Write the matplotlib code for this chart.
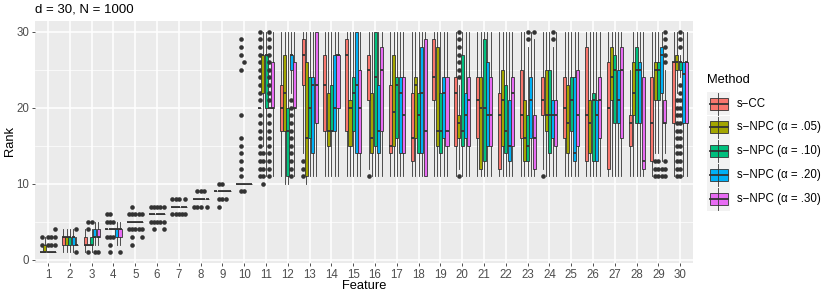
# Rank of each feature by method, d = 30, N = 1000
import numpy as np
import matplotlib.pyplot as plt
from matplotlib.patches import Rectangle

plt.rcParams['font.family'] = ['Liberation Sans', 'DejaVu Sans']

features = list(range(1, 31))
methods = ['s\u2212CC', 's\u2212NPC (\u03b1 = .05)', 's\u2212NPC (\u03b1 = .10)',
           's\u2212NPC (\u03b1 = .20)', 's\u2212NPC (\u03b1 = .30)']
colors = ['#F8766D', '#A3A500', '#00BF7D', '#00B0F6', '#E76BF3']

# box statistics, one row per method, one column per feature
q1 = [
    [1, 2, 2, 4, 5, 6, 7, 8, 9, 10, 20, 17, 23, 17, 17, 21, 14, 13, 21, 15, 16, 12, 16, 19, 16, 13, 12, 15, 13, 18],
    [1, 2, 2, 4, 5, 6, 7, 8, 9, 10, 22, 17, 11, 15, 15, 14, 15, 16, 15, 16, 12, 15, 13, 17, 14, 14, 21, 19, 21, 25],
    [1, 2, 2, 4, 5, 6, 7, 8, 9, 10, 20, 11, 16, 17, 17, 15, 16, 14, 14, 15, 13, 14, 13, 14, 17, 13, 18, 18, 21, 25],
    [1, 2, 3, 3, 5, 6, 7, 8, 9, 10, 20, 25, 14, 17, 14, 14, 14, 14, 16, 16, 15, 13, 16, 16, 13, 13, 18, 18, 22, 18],
    [1, 2, 3, 3, 5, 6, 7, 8, 9, 10, 20, 20, 18, 20, 14, 17, 14, 11, 15, 15, 15, 15, 12, 15, 15, 16, 16, 12, 18, 18],
]
med = [
    [1, 3, 2, 4, 5, 6, 7, 8, 9, 10, 20, 20, 27, 23, 27, 25, 15, 16, 24, 22, 21, 19, 19, 21, 20, 19, 20, 18, 18, 26],
    [1, 3, 2, 4, 5, 6, 7, 8, 9, 10, 27, 22, 16, 17, 20, 16, 19.5, 23, 17, 18, 20, 21, 16, 19, 18, 18, 24, 22, 25, 26],
    [1, 3, 2, 4, 5, 6, 7, 8, 9, 10, 27, 17, 20, 17, 22, 24, 23, 19, 17, 17, 20, 17, 15, 19, 21, 21, 25, 25, 25, 26],
    [1, 3, 3, 4, 5, 6, 7, 8, 9, 10, 20, 27, 23, 20, 23, 17, 22, 22, 22, 19, 19, 15, 21, 19, 14, 19, 21, 25, 27, 24.5],
    [1, 2, 3, 4, 5, 6, 7, 8, 9, 10, 20, 20, 23, 27, 20, 25, 19, 17, 17, 21, 19, 22, 16, 19, 19, 21, 25, 13, 18, 26],
]
q3 = [
    [1, 3, 3, 4, 5, 6, 7, 8, 9, 10, 20, 23, 29, 27, 29, 27, 23, 22, 29, 24, 24, 22, 25, 24, 24, 28, 26, 19, 24, 26],
    [2, 3, 2, 4, 5, 6, 7, 8, 9, 10, 27, 27, 26, 22, 21, 22, 27, 24, 28, 19, 24, 25, 21, 25, 23, 21, 28, 26, 26, 27],
    [1, 3, 3, 4, 5, 6, 7, 8, 9, 10, 27, 20, 24, 23, 24, 30, 24, 22, 22, 27, 29, 23, 19, 25, 24, 22, 27, 28, 26, 26],
    [1, 3, 4, 4, 5, 6, 7, 8, 9, 10, 20, 27, 24, 27, 30, 23, 24, 28, 24, 22, 26, 21, 24, 21, 24, 21, 25, 26, 28, 26],
    [1, 2, 4, 4, 5, 6, 7, 8, 9, 10, 26, 26, 30, 27, 25, 28, 24, 29, 24, 24, 24, 24, 19, 21, 25, 24, 28, 24, 21, 26],
]
whisk_lo = [
    [1, 1, 1, 4, 5, 6, 7, 8, 9, 10, 20, 11, 14, 11, 11, 12, 11, 11, 11, 11, 11, 11, 11, 12, 11, 11, 11, 11, 11, 11],
    [1, 1, 2, 4, 5, 6, 7, 8, 9, 10, 15, 10, 10, 11, 11, 11, 11, 11, 11, 12, 11, 11, 11, 11, 11, 11, 11, 11, 14, 22],
    [1, 1, 1, 4, 5, 6, 7, 8, 9, 10, 11, 10, 11, 11, 11, 11, 11, 11, 11, 11, 11, 11, 11, 11, 11, 11, 11, 11, 14, 24],
    [1, 1, 2, 2, 5, 6, 7, 8, 9, 10, 20, 22, 11, 11, 11, 11, 11, 11, 11, 11, 11, 11, 11, 11, 11, 11, 11, 11, 13, 11],
    [1, 2, 2, 2, 5, 6, 7, 8, 9, 10, 11, 11, 11, 11, 11, 11, 11, 11, 11, 11, 11, 11, 11, 11, 11, 11, 11, 11, 14, 11],
]
whisk_hi = [
    [1, 4, 4, 4, 5, 6, 7, 8, 9, 10, 20, 30, 30, 30, 30, 30, 30, 30, 30, 30, 30, 30, 30, 30, 30, 30, 30, 25, 30, 30],
    [3, 4, 2, 4, 5, 6, 7, 8, 9, 10, 30, 30, 30, 30, 30, 30, 30, 30, 30, 23, 30, 30, 30, 30, 30, 30, 30, 30, 30, 30],
    [1, 4, 4, 4, 5, 6, 7, 8, 9, 10, 30, 30, 30, 30, 30, 30, 30, 30, 30, 30, 30, 30, 28, 30, 30, 30, 30, 30, 30, 27],
    [1, 4, 5, 5, 5, 6, 7, 8, 9, 10, 20, 30, 30, 30, 30, 30, 30, 30, 30, 30, 30, 30, 30, 28, 30, 30, 30, 30, 30, 30],
    [1, 3, 5, 5, 5, 6, 7, 8, 9, 10, 30, 30, 30, 30, 30, 30, 30, 30, 30, 30, 30, 30, 29, 30, 30, 30, 30, 30, 25, 30],
]

# outliers per method: feature -> ranks
fliers_scc = {1: [2, 3], 4: [3, 5, 6], 5: [4, 6], 6: [5, 7], 7: [6, 8], 8: [7],
              11: [11, 12, 13, 14, 15, 16, 17, 18, 19, 21, 22, 23, 24, 25, 26, 27, 28, 29, 30],
              13: [11, 12, 13], 16: [11], 24: [11]}
fliers_05 = {3: [1, 4, 5], 4: [1, 2, 3, 5, 6], 5: [2, 3, 4, 6, 7], 6: [4, 5, 7], 7: [6, 8],
             8: [7, 9], 9: [7, 8, 10], 10: [9, 11, 12, 13, 14, 15, 16, 19, 25, 27, 28, 29],
             11: [10, 11, 12, 13, 14], 20: [11, 24, 25, 26, 27, 28, 29, 30], 29: [11, 12, 13],
             30: [11, 12, 13, 14, 15, 16, 17, 18, 19, 20, 21]}
fliers_10 = {1: [2, 3], 3: [5], 4: [3, 5], 5: [4, 6], 6: [5, 7], 7: [6, 8], 8: [7, 9],
             9: [8, 10], 10: [9, 26], 23: [29, 30], 29: [11, 12, 13],
             30: [11, 12, 13, 14, 15, 16, 17, 18, 19, 20, 21, 22, 23, 28, 29, 30]}
fliers_20 = {1: [2, 3], 3: [1], 5: [4, 6], 6: [5, 7], 7: [6], 8: [9], 9: [8],
             11: [11, 12, 13, 14, 15, 16, 17, 18, 19, 21, 22, 23, 24, 25, 26, 27, 28, 29, 30],
             12: [11, 12, 13, 14, 15, 16, 17, 18, 19, 20, 21], 24: [29, 30], 29: [11, 12]}
fliers_30 = {1: [2, 3, 4], 2: [1, 4], 3: [1], 4: [1], 5: [3, 4, 6], 6: [4, 5, 7], 7: [6, 8],
             8: [7], 23: [30], 29: [11, 12, 13, 26, 27, 28, 29, 30]}
fliers = [fliers_scc, fliers_05, fliers_10, fliers_20, fliers_30]

W, H = 830, 297
fig = plt.figure(figsize=(8.3, 2.97), dpi=100)
ax = fig.add_axes([35 / W, 1 - 263.3 / H, (693.3 - 35) / W, (263.3 - 20.7) / H])
ax.set_facecolor('#EBEBEB')
for s in ax.spines.values():
    s.set_visible(False)

offsets = [-0.3, -0.15, 0.0, 0.15, 0.3]
dark = '#333333'
for m in range(5):
    stats = []
    for i, f in enumerate(features):
        stats.append(dict(q1=q1[m][i], med=med[m][i], q3=q3[m][i],
                          whislo=whisk_lo[m][i], whishi=whisk_hi[m][i],
                          fliers=fliers[m].get(f, [])))
    pos = np.array(features) + offsets[m]
    ax.bxp(stats, positions=pos, widths=0.14, patch_artist=True, showcaps=False,
           manage_ticks=False,
           boxprops=dict(facecolor=colors[m], edgecolor=dark, linewidth=0.6),
           medianprops=dict(color=dark, linewidth=1.3, solid_capstyle='butt'),
           whiskerprops=dict(color=dark, linewidth=0.6),
           flierprops=dict(marker='o', markerfacecolor=dark, markeredgecolor='none',
                           markersize=3.3))

ax.set_xlim(0.4, 30.6)
ax.set_ylim(-0.47, 31.45)
ax.set_xticks(features)
ax.set_xticklabels([str(f) for f in features])
ax.set_yticks([0, 10, 20, 30])
ax.set_yticks([5, 15, 25], minor=True)
ax.set_axisbelow(True)
ax.grid(which='major', color='white', linewidth=1.1)
ax.grid(which='minor', axis='y', color='white', linewidth=0.5)
ax.tick_params(which='major', length=2.5, width=0.6, color=dark, labelcolor='#4D4D4D',
               labelsize=8.3, pad=1.5)
ax.tick_params(which='minor', length=0)

fig.text(35 / W, 1 - 9.5 / H, 'd = 30, N = 1000', fontsize=9.5, va='center', ha='left')
fig.text(10 / W, 1 - 141 / H, 'Rank', fontsize=9.3, rotation=90, va='center', ha='center')
fig.text(364 / W, 1 - 286 / H, 'Feature', fontsize=9.3, va='center', ha='center')

# legend drawn in pixel coordinates
lax = fig.add_axes([0, 0, 1, 1])
lax.set_xlim(0, W)
lax.set_ylim(H, 0)
lax.axis('off')
lax.text(706.7, 80, 'Method', fontsize=9.3, va='center', ha='left')
key_top, key_h = 91.7, 23.8
for m in range(5):
    y0 = key_top + m * key_h
    yc = y0 + key_h / 2
    lax.add_patch(Rectangle((706.7, y0), 23.3, key_h, facecolor='#F2F2F2', edgecolor='none'))
    lax.plot([718.3, 718.3], [y0 + 1, y0 + key_h - 1], color=dark, lw=0.6)
    lax.add_patch(Rectangle((709.5, yc - 6), 18, 12, facecolor=colors[m], edgecolor=dark, lw=0.6))
    lax.plot([709.5, 727.5], [yc, yc], color=dark, lw=1.3)
    lax.text(736.5, yc, methods[m], fontsize=8.3, va='center', ha='left')

fig.savefig('out.png', dpi=100)
